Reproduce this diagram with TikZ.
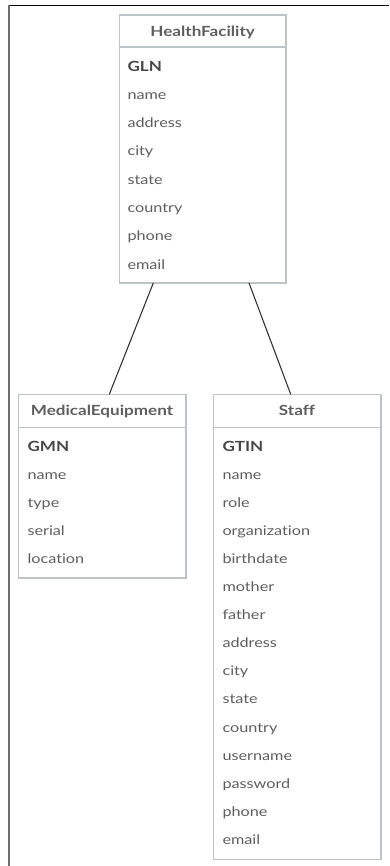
\documentclass[tikz,border=0pt]{standalone}
\usepackage{fontspec}
\setmainfont{Lato}[FakeStretch=1.22,Ligatures={NoCommon}]
\definecolor{boxc}{HTML}{BEC3C7}
\definecolor{txtc}{HTML}{5E5E5E}
\definecolor{keyc}{HTML}{474747}
\definecolor{framec}{HTML}{6E6E6E}
\begin{document}
\begin{tikzpicture}[x=1pt,y=-1pt,
  box/.style={draw=boxc, line width=1.6pt, inner sep=0pt, outer sep=0pt, anchor=north west},
  hdrtxt/.style={font=\fontsize{14}{16}\selectfont\bfseries, text=txtc, anchor=base},
  keytxt/.style={font=\fontsize{14}{16}\selectfont\bfseries, text=keyc, anchor=base west, inner sep=0pt},
  attr/.style={font=\fontsize{13.3}{15}\selectfont, text=txtc, anchor=base west, inner sep=0pt},
  conn/.style={draw=black!80, line width=1.1pt}]
\useasboundingbox (0,0) rectangle (389,866);
% frame
\draw[black, line width=1.6pt] (8.2,5.5) -- (389,5.5);
\draw[framec, line width=2pt] (9,5) -- (9,866);
% HealthFacility
\node[box, minimum width=166.7pt, minimum height=32.3pt] (hfh) at (119.3,15) {};
\node[box, minimum width=166.7pt, minimum height=235.7pt] (hfb) at (119.3,47.3) {};
\node[hdrtxt] (hft) at (202.65,36.5) {HealthFacility};
\node[keytxt] (hf0) at (127.3,72) {GLN};
\foreach \t [count=\i] in {name,address,city,state,country,phone,email}
  \node[attr] (hf\i) at (127.3,{99.4+28.3*(\i-1)}) {\t};
% MedicalEquipment
\node[box, minimum width=167.4pt, minimum height=33pt] (meh) at (18.3,394.3) {};
\node[box, minimum width=167.4pt, minimum height=150.7pt] (meb) at (18.3,427.3) {};
\node[hdrtxt] (met) at (102,415.5) {MedicalEquipment};
\node[keytxt] (me0) at (27.3,451.4) {GMN};
\foreach \t [count=\i] in {name,type,serial,location}
  \node[attr] (me\i) at (27.3,{479.1+28.1*(\i-1)}) {\t};
% Staff
\node[box, minimum width=167.4pt, minimum height=33pt] (sth) at (213.3,394.3) {};
\node[box, minimum width=167.4pt, minimum height=432pt] (stb) at (213.3,427.3) {};
\node[hdrtxt] (stt) at (297,415.5) {Staff};
\node[keytxt] (st0) at (222.3,451.4) {GTIN};
\foreach \t [count=\i] in {name,role,organization,birthdate,mother,father,address,city,state,country,username,password,phone,email}
  \node[attr] (st\i) at (222.3,{479.1+28.1*(\i-1)}) {\t};
% connectors
\draw[conn] ([xshift=34pt]hfb.south west) -- ([xshift=91pt]meh.north west);
\draw[conn] ([xshift=129.7pt]hfb.south west) -- ([xshift=77.4pt]sth.north west);
\end{tikzpicture}
\end{document}
